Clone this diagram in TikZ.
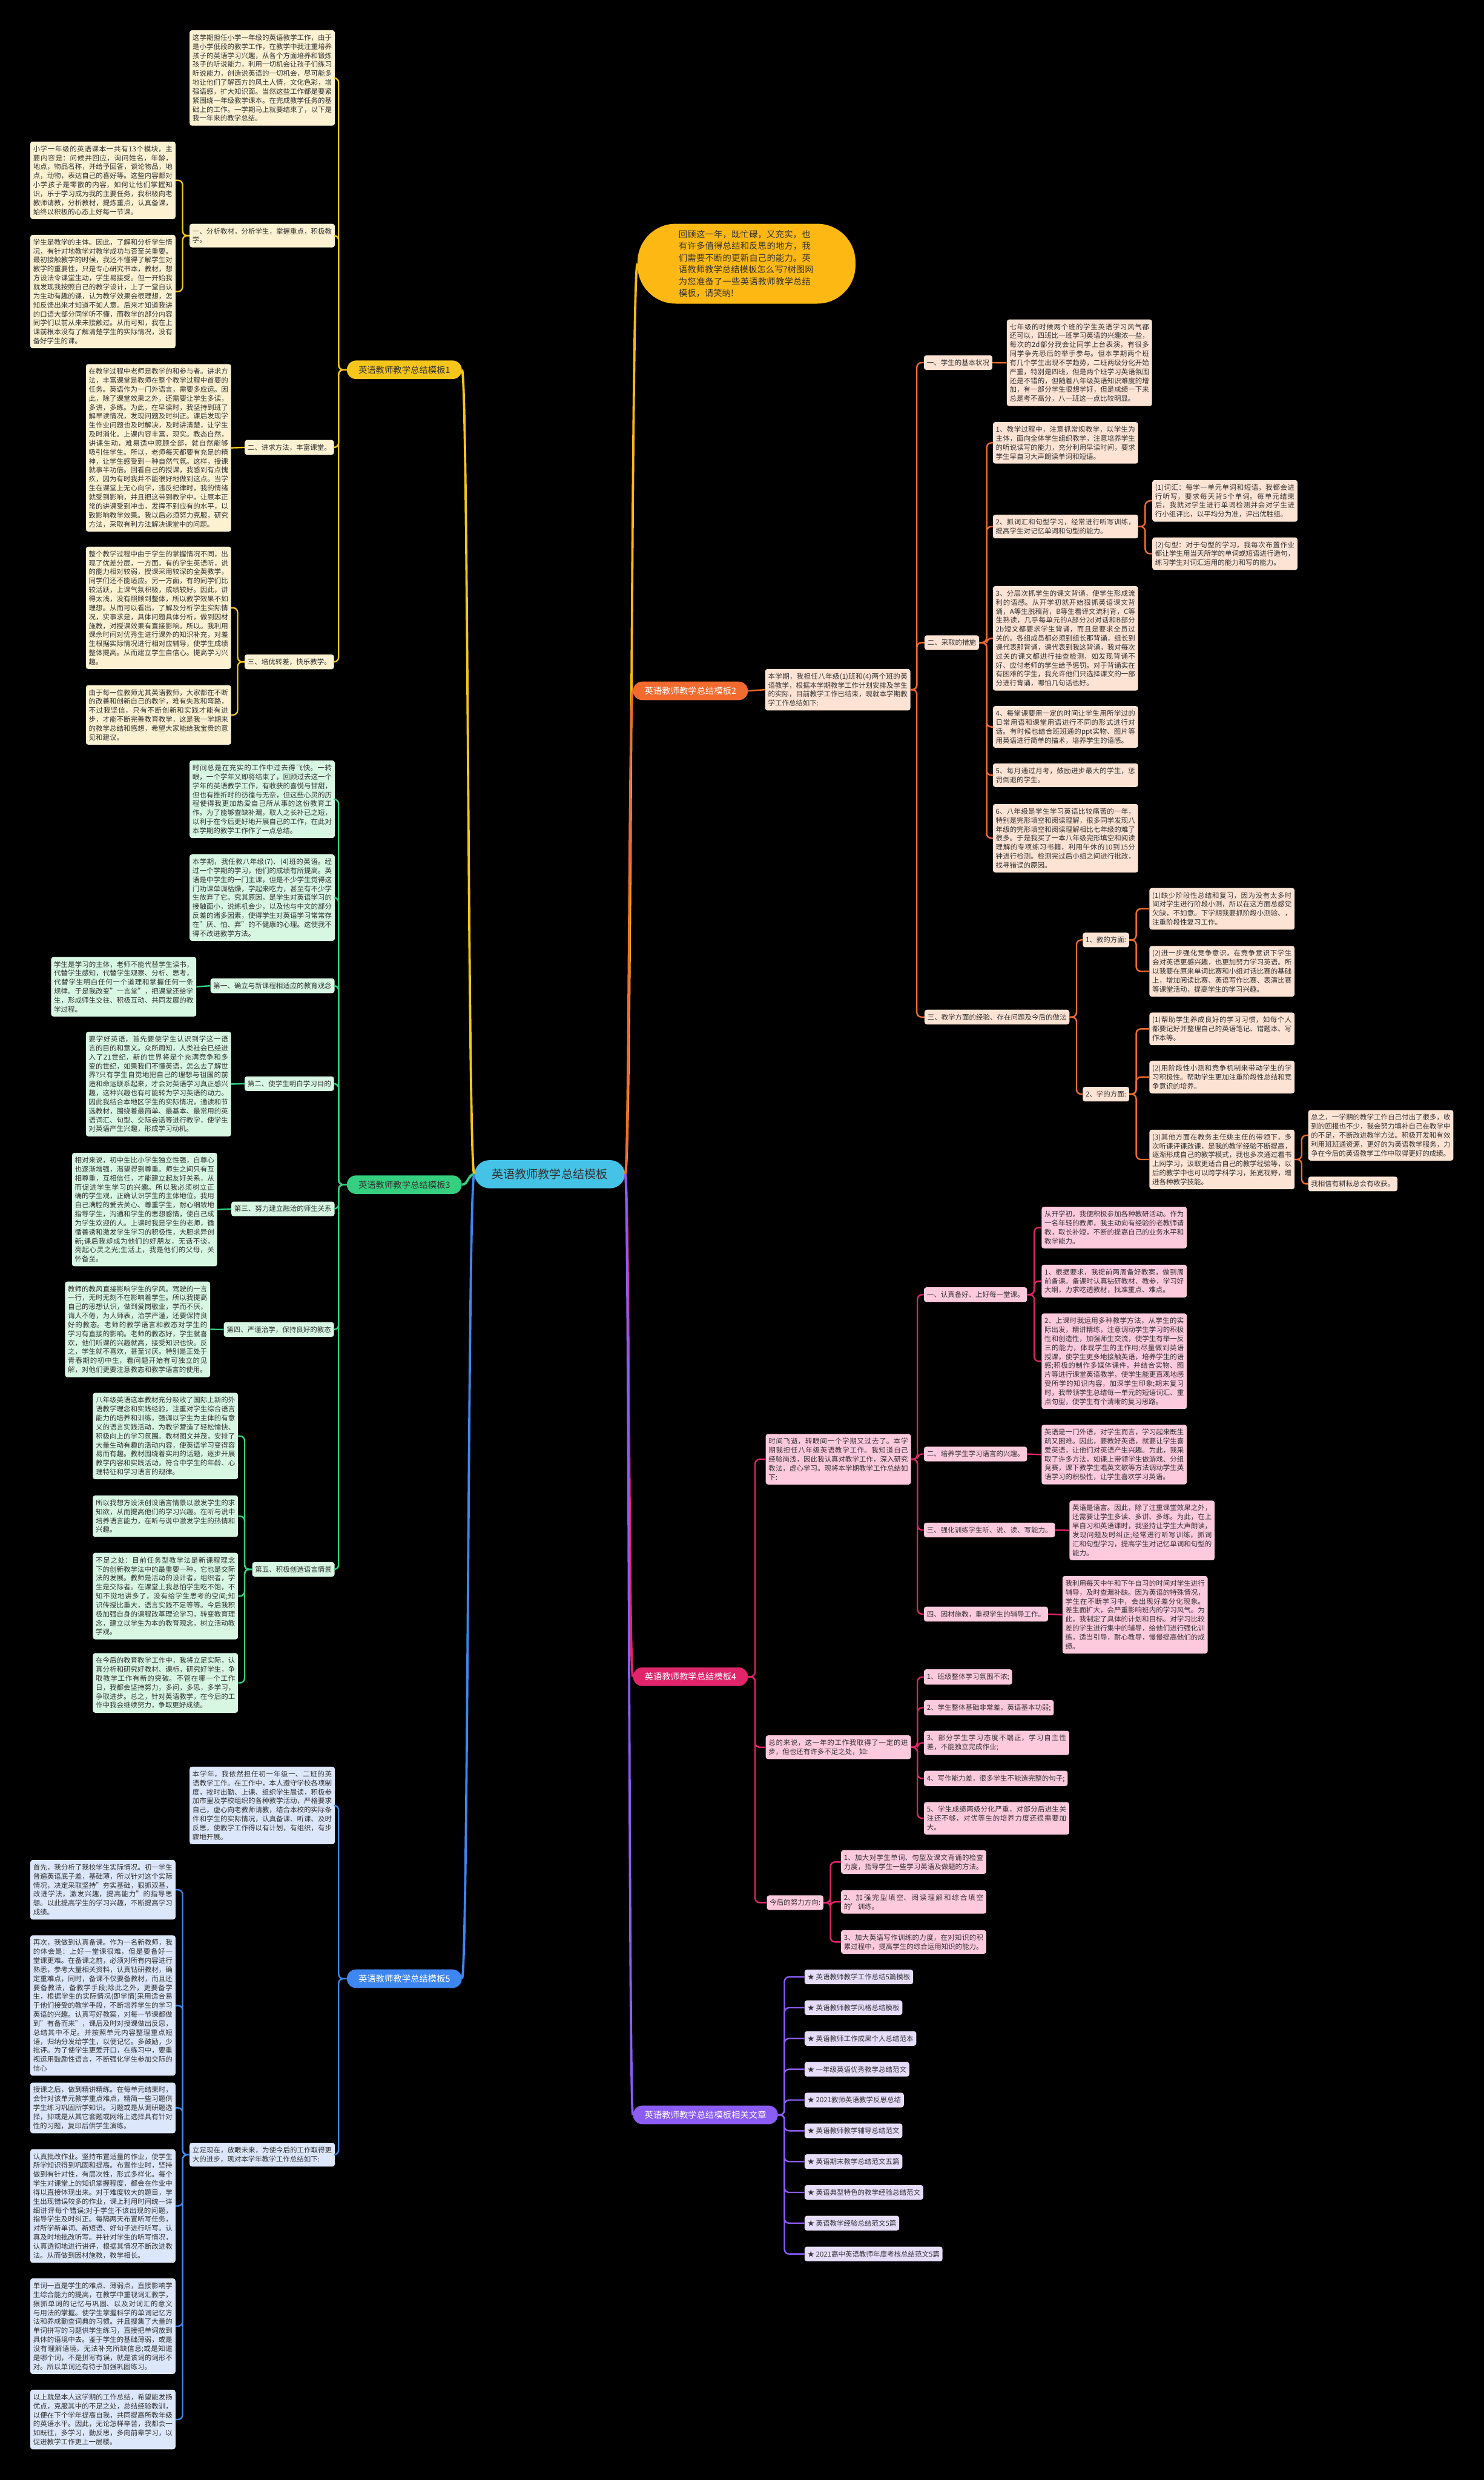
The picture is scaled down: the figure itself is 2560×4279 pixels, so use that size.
\documentclass[tikz,border=0pt]{standalone}
\usepackage{fontspec}
\setmainfont{Noto Sans CJK SC}
\XeTeXlinebreaklocale "zh"
\XeTeXlinebreakskip = 0pt plus 1pt
\setlength{\parindent}{0pt}

\definecolor{ink}{HTML}{333333}
\definecolor{cyn}{HTML}{45C3E6}
\definecolor{gld}{HTML}{FDB813}
\definecolor{ylw}{HTML}{F5C51C}
\definecolor{ylwl}{HTML}{FCF2D2}
\definecolor{org}{HTML}{F26A2E}
\definecolor{orgl}{HTML}{FDE3D4}
\definecolor{grn}{HTML}{35D07F}
\definecolor{grnl}{HTML}{D7F7E3}
\definecolor{pnk}{HTML}{E2246A}
\definecolor{pnkl}{HTML}{FDC9DD}
\definecolor{blu}{HTML}{3E86F0}
\definecolor{blul}{HTML}{DCE7FB}
\definecolor{pur}{HTML}{8B5CF6}
\definecolor{purl}{HTML}{E6DDFB}

\begin{document}
\begin{tikzpicture}[x=1pt, y=-1pt]
\tikzset{
    every node/.style={font=\fontsize{12}{15.5}\selectfont, text=ink, inner xsep=5pt, inner ysep=7pt, rounded corners=4pt},
    leaf/.style={anchor=north west, text width=240.5pt, align=justify},
    lbl/.style={anchor=north west},
    hub/.style={fill=cyn, rounded corners=26pt, inner xsep=30pt, inner ysep=15pt, font=\fontsize{20}{24}\selectfont},
    bubble/.style={fill=gld, rounded corners=66pt, text width=234pt, align=left, inner xsep=71pt, inner ysep=11pt, font=\fontsize{15}{20.3}\selectfont},
    main/.style={rounded corners=16pt, inner xsep=20pt, inner ysep=9pt, font=\fontsize{15}{18}\selectfont},
    con/.style={line width=2.5pt, rounded corners=8pt},
    mline/.style={line width=4pt}
}
\useasboundingbox (0,0) rectangle (2560,4279);
\fill[black] (0,0) rectangle (2560,4279);

% centre and main branches
\node[hub] (ctr) at (948.5,2026) {英语教师教学总结模板};
\node[bubble] (intro) at (1288,455) {回顾这一年，既忙碌，又充实，也有许多值得总结和反思的地方，我们需要不断的更新自己的能力。英语教师教学总结模板怎么写?树图网为您准备了一些英语教师教学总结模板，请笑纳!};
\node[main, fill=ylw, anchor=east] (b1) at (797,638) {英语教师教学总结模板1};
\node[main, fill=org, text=white, anchor=west] (b2) at (1092,1192) {英语教师教学总结模板2};
\node[main, fill=grn, anchor=east] (b3) at (797,2044) {英语教师教学总结模板3};
\node[main, fill=pnk, text=white, anchor=west] (b4) at (1092,2893) {英语教师教学总结模板4};
\node[main, fill=blu, text=white, anchor=east] (b5) at (797,3414) {英语教师教学总结模板5};
\node[main, fill=pur, text=white, anchor=west] (b6) at (1092,3649) {英语教师教学总结模板相关文章};

% branch 1
\begin{scope}[every node/.append style={fill=ylwl}]
\node[leaf] (b1i) at (327,52) {这学期担任小学一年级的英语教学工作，由于是小学低段的教学工作，在教学中我注重培养孩子的英语学习兴趣，从各个方面培养和锻炼孩子的听说能力，利用一切机会让孩子们练习听说能力，创造说英语的一切机会，尽可能多地让他们了解西方的风土人情，文化色彩，增强语感，扩大知识面。当然这些工作都是要紧紧围绕一年级教学课本。在完成教学任务的基础上的工作。一学期马上就要结束了，以下是我一年来的教学总结。};
\node[leaf] (b1a) at (327,386) {一、分析教材，分析学生，掌握重点，积极教学。};
\node[leaf] (b1a1) at (52,244) {小学一年级的英语课本一共有13个模块，主要内容是：问候并回应，询问姓名，年龄，地点，物品名称，并给予回答，谈论物品，地点，动物，表达自己的喜好等。这些内容都对小学孩子是零散的内容，如何让他们掌握知识，乐于学习成为我的主要任务，我积极向老教师请教，分析教材，提炼重点，认真备课，始终以积极的心态上好每一节课。};
\node[leaf] (b1a2) at (52,405) {学生是教学的主体。因此，了解和分析学生情况，有针对地教学对教学成功与否至关重要。最初接触教学的时候，我还不懂得了解学生对教学的重要性，只是专心研究书本，教材，想方设法令课堂生动，学生易接受。但一开始我就发现我按照自己的教学设计，上了一堂自认为生动有趣的课，认为教学效果会很理想，怎知反馈出来才知道不如人意。后来才知道我讲的口语大部分同学听不懂，而教学的部分内容同学们以前从来未接触过。从而可知，我在上课前根本没有了解清楚学生的实际情况，没有备好学生的课。};
\node[lbl] (b1b) at (422,759) {二、讲求方法，丰富课堂。};
\node[leaf] (b1b1) at (148,628) {在教学过程中老师是教学的和参与者。讲求方法，丰富课堂是教师在整个教学过程中首要的任务。英语作为一门外语言，需要多应运。因此，除了课堂效果之外，还需要让学生多读，多讲，多练。为此，在早读时，我坚持到班了解早读情况，发现问题及时纠正。课后发现学生作业问题也及时解决，及时讲清楚，让学生及时消化。上课内容丰富，现实。教态自然，讲课生动，难易适中照顾全部，就自然能够吸引住学生。所以，老师每天都要有充足的精神，让学生感受到一种自然气氛。这样，授课就事半功倍。回看自己的授课，我感到有点愧疚，因为有时我并不能很好地做到这点。当学生在课堂上无心向学，违反纪律时，我的情绪就受到影响，并且把这带到教学中，让原本正常的讲课受到冲击，发挥不到应有的水平，以致影响教学效果。我以后必须努力克服，研究方法，采取有利方法解决课堂中的问题。};
\node[lbl] (b1c) at (422,1129) {三、培优转差，快乐教学。};
\node[leaf] (b1c1) at (148,943) {整个教学过程中由于学生的掌握情况不同，出现了优差分层，一方面，有的学生英语听，说的能力相对较弱，授课采用较深的全英教学，同学们还不能适应。另一方面，有的同学们比较活跃，上课气氛积极，成绩较好。因此，讲得太浅，没有照顾到整体，所以教学效果不如理想。从而可以看出，了解及分析学生实际情况，实事求是，具体问题具体分析，做到因材施教，对授课效果有直接影响。所以。我利用课余时间对优秀生进行课外的知识补充，对差生根据实际情况进行相对应辅导，使学生成绩整体提高。从而建立学生自信心。提高学习兴趣。};
\node[leaf] (b1c2) at (148,1182) {由于每一位教师尤其英语教师，大家都在不断的改善和创新自己的教学，难有失败和弯路，不过我坚信，只有不断创新和实践才能有进步，才能不断完善教育教学，这是我一学期来的教学总结和感想，希望大家能给我宝贵的意见和建议。};
\end{scope}

% branch 2
\begin{scope}[every node/.append style={fill=orgl}]
\node[leaf] (b2i) at (1320,1154) {本学期，我担任八年级(1)班和(4)两个班的英语教学，根据本学期教学工作计划安排及学生的实际，目前教学工作已结束，现就本学期教学工作总结如下:};
\node[lbl] (b2a) at (1594,613) {一、学生的基本状况};
\node[leaf] (b2a1) at (1737,551) {七年级的时候两个班的学生英语学习风气都还可以，四班比一班学习英语的兴趣浓一些，每次的2d部分我会让同学上台表演，有很多同学争先恐后的举手参与。但本学期两个班有几个学生出现不学趋势，二班两级分化开始严重，特别是四班，但是两个班学习英语氛围还是不错的，但随着八年级英语知识难度的增加，有一部分学生很想学好，但是成绩一下来总是考不高分，八一班这一点比较明显。};
\node[lbl] (b2b) at (1595,1096) {二、采取的措施};
\node[leaf] (b2b1) at (1713,728) {1、教学过程中，注意抓常规教学，以学生为主体，面向全体学生组织教学，注意培养学生的听说读写的能力，充分利用早读时间，要求学生早自习大声朗读单词和短语。};
\node[leaf] (b2b2) at (1713,888) {2、抓词汇和句型学习，经常进行听写训练，提高学生对记忆单词和句型的能力。};
\node[leaf] (b2b2a) at (1988,828) {(1)词汇：每学一单元单词和短语，我都会进行听写，要求每天背5个单词。每单元结束后，我就对学生进行单词检测并会对学生进行小组评比，以平均分为准，评出优胜组。};
\node[leaf] (b2b2b) at (1988,927) {(2)句型：对于句型的学习，我每次布置作业都让学生用当天所学的单词或短语进行造句，练习学生对词汇运用的能力和写的能力。};
\node[leaf] (b2b3) at (1713,1011) {3、分层次抓学生的课文背诵，使学生形成流利的语感。从开学初就开始狠抓英语课文背诵，A等生脱稿背，B等生看译文流利背，C等生熟读，几乎每单元的A部分2d对话和B部分2b短文都要求学生背诵，而且是要求全员过关的。各组成员都必须到组长那背诵，组长到课代表那背诵，课代表到我这背诵，我对每次过关的课文都进行抽查检测，如发现背诵不好、应付老师的学生给予惩罚。对于背诵实在有困难的学生，我允许他们只选择课文的一部分进行背诵，哪怕几句话也好。};
\node[leaf] (b2b4) at (1713,1218) {4、每堂课要用一定的时间让学生用所学过的日常用语和课堂用语进行不同的形式进行对话。有时候也结合班班通的ppt实物、图片等用英语进行简单的描术，培养学生的语感。};
\node[leaf] (b2b5) at (1713,1317) {5、每月通过月考，鼓励进步最大的学生，惩罚倒退的学生。};
\node[leaf] (b2b6) at (1713,1387) {6、八年级是学生学习英语比较痛苦的一年，特别是完形填空和阅读理解，很多同学发现八年级的完形填空和阅读理解相比七年级的难了很多。于是我买了一本八年级完形填空和阅读理解的专项练习书籍，利用午休的10到15分钟进行检测。检测完过后小组之间进行批改，找寻错误的原因。};
\node[lbl] (b2c) at (1595,1742) {三、教学方面的经验、存在问题及今后的做法};
\node[lbl] (b2c1) at (1868,1609) {1、教的方面:};
\node[leaf] (b2c1a) at (1983,1532) {(1)缺少阶段性总结和复习，因为没有太多时间对学生进行阶段小测，所以在这方面总感觉欠缺，不如意。下学期我要抓阶段小测验、，注重阶段性复习工作。};
\node[leaf] (b2c1b) at (1983,1632) {(2)进一步强化竞争意识，在竞争意识下学生会对英语更感兴趣，也更加努力学习英语。所以我要在原来单词比赛和小组对话比赛的基础上，增加阅读比赛、英语写作比赛、表演比赛等课堂活动，提高学生的学习兴趣。};
\node[lbl] (b2c2) at (1868,1875) {2、学的方面:};
\node[leaf] (b2c2a) at (1983,1747) {(1)帮助学生养成良好的学习习惯，如每个人都要记好并整理自己的英语笔记、错题本、写作本等。};
\node[leaf] (b2c2b) at (1983,1830) {(2)用阶段性小测和竞争机制来带动学生的学习积极性。帮助学生更加注重阶段性总结和竞争意识的培养。};
\node[leaf] (b2c2c) at (1983,1949) {(3)其他方面在教务主任姚主任的带领下，多次听课评课改课，是我的教学经验不断提高，逐渐形成自己的教学模式，我也多次通过看书上网学习，汲取更适合自己的教学经验等，以后的教学中也可以跨学科学习，拓宽视野，增进各种教学技能。};
\node[leaf] (b2c2c1) at (2257,1915) {总之，一学期的教学工作自己付出了很多，收到的回报也不少，我会努力填补自己在教学中的不足，不断改进教学方法。积极开发和有效利用班班通资源，更好的为英语教学服务，力争在今后的英语教学工作中取得更好的成绩。};
\node[lbl] (b2c2c2) at (2257,2030) {我相信有耕耘总会有收获。};
\end{scope}

% branch 3
\begin{scope}[every node/.append style={fill=grnl}]
\node[leaf] (b3i1) at (327,1312) {时间总是在充实的工作中过去得飞快。一转眼，一个学年又即将结束了，回顾过去这一个学年的英语教学工作，有收获的喜悦与甘甜，但也有挫折时的彷徨与无奈，但这些心灵的历程使得我更加热爱自己所从事的这份教育工作。为了能够查缺补漏，取人之长补已之短，以利于在今后更好地开展自己的工作，在此对本学期的教学工作作了一点总结。};
\node[leaf] (b3i2) at (327,1474) {本学期，我任教八年级(7)、(4)班的英语。经过一个学期的学习，他们的成绩有所提高。英语是中学生的一门主课，但是不少学生觉得这门功课单调枯燥，学起来吃力，甚至有不少学生放弃了它。究其原因，是学生对英语学习的接触面小，说练机会少，以及他与中文的部分反差的诸多因素，使得学生对英语学习常常存在"厌、怕、弃"的不健康的心理。这使我不得不改进教学方法。};
\node[lbl] (b3a) at (363,1688) {第一、确立与新课程相适应的教育观念};
\node[leaf] (b3a1) at (88,1651) {学生是学习的主体，老师不能代替学生读书，代替学生感知，代替学生观察、分析、思考，代替学生明白任何一个道理和掌握任何一条规律。于是我改变"一言堂"，把课堂还给学生，形成师生交往、积极互动、共同发展的教学过程。};
\node[lbl] (b3b) at (422,1857) {第二、使学生明白学习目的};
\node[leaf] (b3b1) at (148,1780) {要学好英语，首先要使学生认识到学这一语言的目的和意义。众所周知，人类社会已经进入了21世纪，新的世界将是个充满竞争和多变的世纪，如果我们不懂英语，怎么去了解世界?只有学生自觉地把自己的理想与祖国的前途和命运联系起来，才会对英语学习真正感兴趣，这种兴趣也有可能转为学习英语的动力。因此我结合本地区学生的实际情况，通读和节选教材，围绕着最简单、最基本、最常用的英语词汇、句型、交际会话等进行教学，使学生对英语产生兴趣，形成学习动机。};
\node[lbl] (b3c) at (399,2073) {第三、努力建立融洽的师生关系};
\node[leaf] (b3c1) at (124,1989) {相对来说，初中生比小学生独立性强，自尊心也逐渐增强，渴望得到尊重。师生之间只有互相尊重，互相信任，才能建立起友好关系，从而促进学生学习的兴趣。所以我必须树立正确的学生观，正确认识学生的主体地位。我用自己满腔的爱去关心、尊重学生，耐心细致地指导学生，沟通和学生的思想感情，使自己成为学生欢迎的人。上课时我是学生的老师，循循善诱和激发学生学习的积极性，大胆求异创新;课后我却成为他们的好朋友，无话不谈，亮起心灵之光;生活上，我是他们的父母，关怀备至。};
\node[lbl] (b3d) at (386,2281) {第四、严谨治学，保持良好的教态};
\node[leaf] (b3d1) at (112,2211) {教师的教风直接影响学生的学风。驾驶的一言一行，无时无刻不在影响着学生。所以我提高自己的思想认识，做到爱岗敬业，学而不厌，诲人不倦，为人师表，治学严谨，还要保持良好的教态。老师的教学语言和教态对学生的学习有直接的影响。老师的教态好，学生就喜欢，他们听课的兴趣就高，接受知识也快。反之，学生就不喜欢，甚至讨厌。特别是正处于青春期的初中生，看问题开始有可独立的见解，对他们更要注意教态和教学语言的使用。};
\node[lbl] (b3e) at (435,2695) {第五、积极创造语言情景};
\node[leaf] (b3e1) at (160,2403) {八年级英语这本教材充分吸收了国际上新的外语教学理念和实践经验，注重对学生综合语言能力的培养和训练，强调以学生为主体的有意义的语言实践活动，为教学营造了轻松愉快、积极向上的学习氛围。教材图文并茂，安排了大量生动有趣的活动内容，使英语学习变得容易而有趣。教材围绕着实用的话题，逐步开展教学内容和实践活动，符合中学生的年龄、心理特征和学习语言的规律。};
\node[leaf] (b3e2) at (160,2580) {所以我想方设法创设语言情景以激发学生的求知欲，从而提高他们的学习兴趣。在听与说中培养语言能力，在听与说中激发学生的热情和兴趣。};
\node[leaf] (b3e3) at (160,2679) {不足之处：目前任务型教学法是新课程理念下的创新教学法中的最重要一种，它也是交际法的发展。教师是活动的设计者，组织者，学生是交际者。在课堂上我总怕学生吃不饱，不知不觉地讲多了，没有给学生思考的空间;知识传授比重大，语言实践不足等等。今后我积极加强自身的课程改革理论学习，转变教育理念，建立以学生为本的教育观念，树立活动教学观。};
\node[leaf] (b3e4) at (160,2852) {在今后的教育教学工作中，我将立足实际，认真分析和研究好教材、课标，研究好学生，争取教学工作有新的突破。不管在哪一个工作日，我都会坚持努力，多问，多思，多学习，争取进步。总之，针对英语教学，在今后的工作中我会继续努力，争取更好成绩。};
\end{scope}

% branch 4
\begin{scope}[every node/.append style={fill=pnkl}]
\node[leaf] (b4i1) at (1321,2474) {时间飞逝，转眼间一个学期又过去了。本学期我担任八年级英语教学工作。我知道自己经验尚浅，因此我认真对教学工作，深入研究教法，虚心学习。现将本学期教学工作总结如下:};
\node[lbl] (b4a) at (1594,2221) {一、认真备好、上好每一堂课。};
\node[leaf] (b4a1) at (1797,2082) {从开学初，我便积极参加各种教研活动。作为一名年轻的教师，我主动向有经验的老教师请教，取长补短，不断的提高自己的业务水平和教学能力。};
\node[leaf] (b4a2) at (1797,2182) {1、根据要求，我提前两周备好教案，做到周前备课。备课时认真钻研教材、教参，学习好大纲，力求吃透教材，找准重点、难点。};
\node[leaf] (b4a3) at (1797,2266) {2、上课时我运用多种教学方法，从学生的实际出发，精讲精练，注意调动学生学习的积极性和创造性，加强师生交流，使学生有举一反三的能力，体现学生的主作用;尽量做到英语授课，使学生更多地接触英语，培养学生的语感;积极的制作多媒体课件，并结合实物、图片等进行课堂英语教学，使学生能更直观地感受所学的知识内容，加深学生印象;期末复习时，我带领学生总结每一单元的短语词汇、重点句型，使学生有个清晰的复习思路。};
\node[lbl] (b4b) at (1594,2496) {二、培养学生学习语言的兴趣。};
\node[leaf] (b4b1) at (1797,2458) {英语是一门外语，对学生而言，学习起来既生疏又困难。因此，要教好英语，就要让学生喜爱英语，让他们对英语产生兴趣。为此，我采取了许多方法，如课上带领学生做游戏、分组竞赛，课下教学生唱英文歌等方法调动学生英语学习的积极性，让学生喜欢学习英语。};
\node[lbl] (b4c) at (1594,2627) {三、强化训练学生听、说、读、写能力。};
\node[leaf] (b4c1) at (1845,2589) {英语是语言。因此，除了注重课堂效果之外，还需要让学生多读、多讲、多练。为此，在上早自习和英语课时，我坚持让学生大声朗读，发现问题及时纠正;经常进行听写训练，抓词汇和句型学习，提高学生对记忆单词和句型的能力。};
\node[lbl] (b4d) at (1594,2772) {四、因材施教，重视学生的辅导工作。};
\node[leaf] (b4d1) at (1833,2719) {我利用每天中午和下午自习的时间对学生进行辅导，及时查漏补缺。因为英语的特殊情况，学生在不断学习中，会出现好差分化现象。差生面扩大，会严重影响班内的学习风气。为此，我制定了具体的计划和目标。对学习比较差的学生进行集中的辅导，给他们进行强化训练，适当引导，耐心教导，慢慢提高他们的成绩。};
\node[leaf] (b4i2) at (1321,2994) {总的来说，这一年的工作我取得了一定的进步，但也还有许多不足之处，如:};
\node[lbl] (b4e1) at (1594,2880) {1、班级整体学习氛围不浓;};
\node[lbl] (b4e2) at (1594,2933) {2、学生整体基础非常差，英语基本功弱;};
\node[leaf] (b4e3) at (1594,2986) {3、部分学生学习态度不端正，学习自主性差，不能独立完成作业;};
\node[lbl] (b4e4) at (1594,3055) {4、写作能力差，很多学生不能造完整的句子;};
\node[leaf] (b4e5) at (1594,3109) {5、学生成绩两级分化严重，对部分后进生关注还不够，对优等生的培养力度还很需要加大。};
\node[lbl] (b4i3) at (1323,3270) {今后的努力方向:};
\node[leaf] (b4f1) at (1451,3192) {1、加大对学生单词、句型及课文背诵的检查力度，指导学生一些学习英语及做题的方法。};
\node[leaf] (b4f2) at (1451,3261) {2、加强完型填空、阅读理解和综合填空的'训练。};
\node[leaf] (b4f3) at (1451,3330) {3、加大英语写作训练的力度，在对知识的积累过程中，提高学生的综合运用知识的能力。};
\end{scope}

% branch 5
\begin{scope}[every node/.append style={fill=blul}]
\node[leaf] (b5i) at (327,3048) {本学年，我依然担任初一年级一、二班的英语教学工作。在工作中，本人遵守学校各项制度，按时出勤、上课、组织学生晨读，积极参加市里及学校组织的各种教学活动，严格要求自己，虚心向老教师请教，结合本校的实际条件和学生的实际情况，认真备课、听课、及时反思，使教学工作得以有计划，有组织，有步骤地开展。};
\node[leaf] (b5a) at (327,3697) {立足现在，放眼未来，为使今后的工作取得更大的进步，现对本学年教学工作总结如下:};
\node[leaf] (b5a1) at (52,3209) {首先，我分析了我校学生实际情况。初一学生普遍英语底子差，基础薄，所以针对这个实际情况，决定采取坚持"夯实基础，狠抓双基，改进学法，激发兴趣，提高能力"的指导思想。以此提高学生的学习兴趣，不断提高学习成绩。};
\node[leaf] (b5a2) at (52,3339) {再次，我做到认真备课。作为一名新教师，我的体会是：上好一堂课很难，但是要备好一堂课更难。在备课之前，必须对所有内容进行熟悉，参考大量相关资料，认真钻研教材，确定重难点，同时，备课不仅要备教材，而且还要备教法，备教学手段;除此之外，更要备学生，根据学生的实际情况(即学情)采用适合易于他们接受的教学手段，不断培养学生的学习英语的兴趣。认真写好教案，对每一节课都做到"有备而来"，课后及时对授课做出反思，总结其中不足。并按照单元内容整理重点短语，归纳分发给学生，以便记忆。多鼓励，少批评。为了使学生更爱开口，在练习中，要重视运用鼓励性语言，不断强化学生参加交际的信心};
\node[leaf] (b5a3) at (52,3593) {授课之后，做到精讲精练。在每单元结束时，会针对该单元教学重点难点，精简一些习题供学生练习巩固所学知识。习题或是从调研题选择，抑或是从其它套题或网络上选择具有针对性的习题，复印后供学生演练。};
\node[leaf] (b5a4) at (52,3708) {认真批改作业。坚持布置适量的作业，使学生所学知识得到巩固和提高。布置作业时，坚持做到有针对性，有层次性，形式多样化。每个学生对课堂上的知识掌握程度，都会在作业中得以直接体现出来。对于难度较大的题目，学生出现错误较多的作业，课上利用时间统一详细讲评每个错误;对于学生不该出现的问题，指导学生及时纠正。每隔两天布置听写任务，对所学新单词、新短语、好句子进行听写。认真及时地批改听写。并针对学生的听写情况，认真透彻地进行讲评，根据其情况不断改进教法。从而做到因材施教，教学相长。};
\node[leaf] (b5a5) at (52,3931) {单词一直是学生的难点、薄弱点，直接影响学生综合能力的提高，在教学中重视词汇教学，狠抓单词的记忆与巩固、以及对词汇的意义与用法的掌握。使学生掌握科学的单词记忆方法和养成勤查词典的习惯。并且搜集了大量的单词拼写的习题供学生练习，直接把单词放到具体的语境中去。鉴于学生的基础薄弱，或是没有理解语境，无法补充所缺信息;或是知道是哪个词，不是拼写有误，就是该词的词形不对。所以单词还有待于加强巩固练习。};
\node[leaf] (b5a6) at (52,4123) {以上就是本人这学期的工作总结，希望能发扬优点，克服其中的不足之处，总结经验教训，以便在下个学年提高自我，共同提高所教年级的英语水平。因此，无论怎样辛苦，我都会一如既往，多学习，勤反思，多向前辈学习，以促进教学工作更上一层楼。};
\end{scope}

% branch 6
\foreach \t [count=\i] in {英语教师教学工作总结5篇模板, 英语教师教学风格总结模板, 英语教师工作成果个人总结范本, 一年级英语优秀教学总结范文, 2021教师英语教学反思总结, 英语教师教学辅导总结范文, 英语期末教学总结范文五篇, 英语典型特色的教学经验总结范文, 英语教学经验总结范文5篇, 2021高中英语教师年度考核总结范文5篇}
    \node[fill=purl, anchor=west] (b6r\i) at (1388,{3411+53.1*(\i-1)}) {★ \t};

% connectors
\draw[mline, draw=gld] (ctr.east) .. controls +(11,0) and +(-11,0) .. (intro.west);
\foreach \b/\c in {b1/ylw, b3/grn, b5/blu}
    \draw[mline, draw=\c] (ctr.west) .. controls +(-11,0) and +(11,0) .. (\b.east);
\foreach \b/\c in {b2/org, b4/pnk, b6/pur}
    \draw[mline, draw=\c] (ctr.east) .. controls +(7,0) and +(-7,0) .. (\b.west);

\foreach \c in {b1i,b1a,b1b,b1c}
    \draw[con, draw=ylw] (b1.west) -- ++(-14,0) |- (\c.east);
\foreach \c in {b1a1,b1a2}
    \draw[con, draw=ylw] (b1a.west) -- ++(-12,0) |- (\c.east);
\draw[con, draw=ylw] (b1b.west) -- (b1b1.east);
\foreach \c in {b1c1,b1c2}
    \draw[con, draw=ylw] (b1c.west) -- ++(-12,0) |- (\c.east);

\draw[con, draw=org] (b2.east) -- (b2i.west);
\foreach \c in {b2a,b2b,b2c}
    \draw[con, draw=org] (b2i.east) -- ++(11,0) |- (\c.west);
\draw[con, draw=org] (b2a.east) -- (b2a1.west);
\foreach \c in {b2b1,b2b2,b2b3,b2b4,b2b5,b2b6}
    \draw[con, draw=org] (b2b.east) -- ++(13,0) |- (\c.west);
\foreach \c in {b2b2a,b2b2b}
    \draw[con, draw=org] (b2b2.east) -- ++(12,0) |- (\c.west);
\foreach \c in {b2c1,b2c2}
    \draw[con, draw=org] (b2c.east) -- ++(12,0) |- (\c.west);
\foreach \c in {b2c1a,b2c1b}
    \draw[con, draw=org] (b2c1.east) -- ++(12,0) |- (\c.west);
\foreach \c in {b2c2a,b2c2b,b2c2c}
    \draw[con, draw=org] (b2c2.east) -- ++(12,0) |- (\c.west);
\foreach \c in {b2c2c1,b2c2c2}
    \draw[con, draw=org] (b2c2c.east) -- ++(12,0) |- (\c.west);

\foreach \c in {b3i1,b3i2,b3a,b3b,b3c,b3d,b3e}
    \draw[con, draw=grn] (b3.west) -- ++(-14,0) |- (\c.east);
\draw[con, draw=grn] (b3a.west) -- (b3a1.east);
\draw[con, draw=grn] (b3b.west) -- (b3b1.east);
\draw[con, draw=grn] (b3c.west) -- (b3c1.east);
\draw[con, draw=grn] (b3d.west) -- (b3d1.east);
\foreach \c in {b3e1,b3e2,b3e3,b3e4}
    \draw[con, draw=grn] (b3e.west) -- ++(-13,0) |- (\c.east);

\foreach \c in {b4i1,b4i2,b4i3}
    \draw[con, draw=pnk] (b4.east) -- ++(12,0) |- (\c.west);
\foreach \c in {b4a,b4b,b4c,b4d}
    \draw[con, draw=pnk] (b4i1.east) -- ++(11,0) |- (\c.west);
\foreach \c in {b4a1,b4a2,b4a3}
    \draw[con, draw=pnk] (b4a.east) -- ++(12,0) |- (\c.west);
\draw[con, draw=pnk] (b4b.east) -- (b4b1.west);
\draw[con, draw=pnk] (b4c.east) -- (b4c1.west);
\draw[con, draw=pnk] (b4d.east) -- (b4d1.west);
\foreach \c in {b4e1,b4e2,b4e3,b4e4,b4e5}
    \draw[con, draw=pnk] (b4i2.east) -- ++(11,0) |- (\c.west);
\foreach \c in {b4f1,b4f2,b4f3}
    \draw[con, draw=pnk] (b4i3.east) -- ++(12,0) |- (\c.west);

\foreach \c in {b5i,b5a}
    \draw[con, draw=blu] (b5.west) -- ++(-14,0) |- (\c.east);
\foreach \c in {b5a1,b5a2,b5a3,b5a4,b5a5,b5a6}
    \draw[con, draw=blu] (b5a.west) -- ++(-12,0) |- (\c.east);

\foreach \i in {1,...,10}
    \draw[con, draw=pur] (b6.east) -- ++(11,0) |- (b6r\i.west);
\end{tikzpicture}
\end{document}
